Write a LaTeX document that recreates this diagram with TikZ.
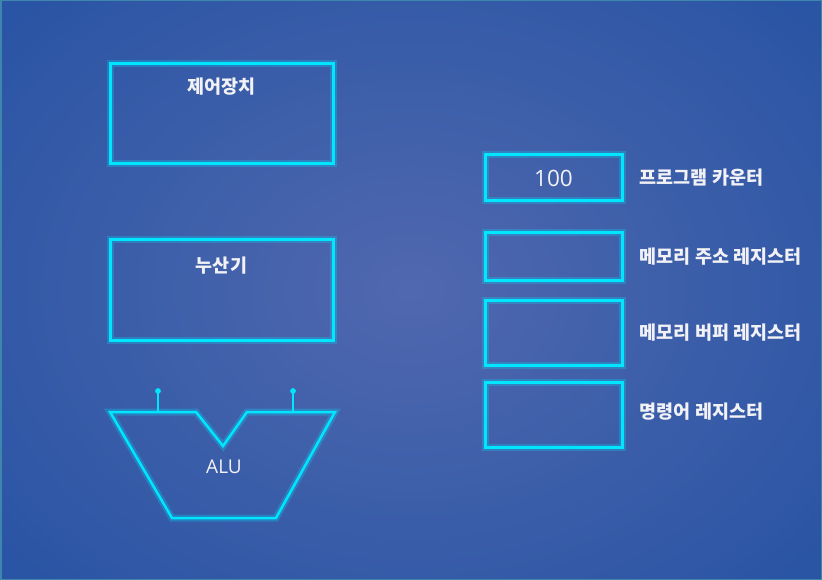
\documentclass[tikz,border=0pt]{standalone}
\usepackage{fontspec}
\setmainfont{Noto Sans CJK KR}
\newfontfamily\latinfont{Open Sans}
\usetikzlibrary{positioning}

\definecolor{bgin}{HTML}{5068AF}
\definecolor{bgout}{HTML}{2A55A4}
\definecolor{bgedge}{HTML}{3F86AE}
\definecolor{neon}{HTML}{00E6FF}
\definecolor{txt}{HTML}{F2F2F6}

\tikzset{
  glow/.style={preaction={draw=neon, line width=7pt, opacity=0.25}},
  regbox/.style={draw=neon, line width=3pt, glow, inner sep=0pt},
  lbl/.style={text=txt, font=\fontsize{18.5}{20}\selectfont\bfseries, inner sep=0pt}
}

\begin{document}
\begin{tikzpicture}[x=1pt, y=-1pt]
  % background
  \useasboundingbox (0,0) rectangle (822,580);
  \begin{scope}
    \clip (0,0) rectangle (822,580);
    \shade[inner color=bgin, outer color=bgout] (-120,-120) rectangle (942,700);
  \end{scope}
  \draw[bgedge, line width=1.5pt] (0.75,0.75) rectangle (821.25,579.25);

  % left side
  \node[regbox, minimum width=223pt, minimum height=100pt] (ctrl) at (221.5,114) {};
  \node[lbl] (ctrltxt) at ([yshift=-24pt]ctrl.north) {제어장치};
  \node[regbox, minimum width=223pt, minimum height=100pt] (acc) at (221.5,290) {};
  \node[lbl] (acctxt) at ([yshift=-27pt]acc.north) {누산기};

  % ALU
  \draw[neon, line width=2.5pt, line join=miter, glow]
    (110,412) -- (196,412) -- (223,446) -- (247,412) -- (335,412)
    -- (276,518) -- (172,518) -- cycle;
  \coordinate (pina) at (158,412);
  \coordinate (pinb) at (293,412);
  \coordinate (pinatop) at (158,391);
  \coordinate (pinbtop) at (293,391);
  \draw[neon, line width=2pt] (pina) -- (pinatop);
  \draw[neon, line width=2pt] (pinb) -- (pinbtop);
  \filldraw[neon] (pinatop) circle (2.6pt);
  \filldraw[neon] (pinbtop) circle (2.6pt);
  \node[text=txt, font=\latinfont\fontsize{19}{21}\selectfont, inner sep=0pt] (alu) at (224,467) {ALU};

  % registers
  \node[regbox, minimum width=137pt, minimum height=46pt] (pc) at (553.5,178) {};
  \node[text=txt, font=\latinfont\fontsize{22.5}{24}\selectfont, inner sep=0pt] (pcval) at (pc.center) {100};
  \node[regbox, minimum width=137pt, minimum height=47pt] (mar) at (553.5,256.5) {};
  \node[regbox, minimum width=137pt, minimum height=65pt] (mbr) at (553.5,333) {};
  \node[regbox, minimum width=137pt, minimum height=65pt] (ir) at (553.5,414.5) {};

  \node[lbl, right=16pt of pc] (pctxt) {프로그램 카운터};
  \node[lbl, right=16pt of mar] (martxt) {메모리 주소 레지스터};
  \node[lbl, right=16pt of mbr] (mbrtxt) {메모리 버퍼 레지스터};
  \node[lbl, right=16pt of ir, yshift=3pt] (irtxt) {명령어 레지스터};
\end{tikzpicture}
\end{document}
